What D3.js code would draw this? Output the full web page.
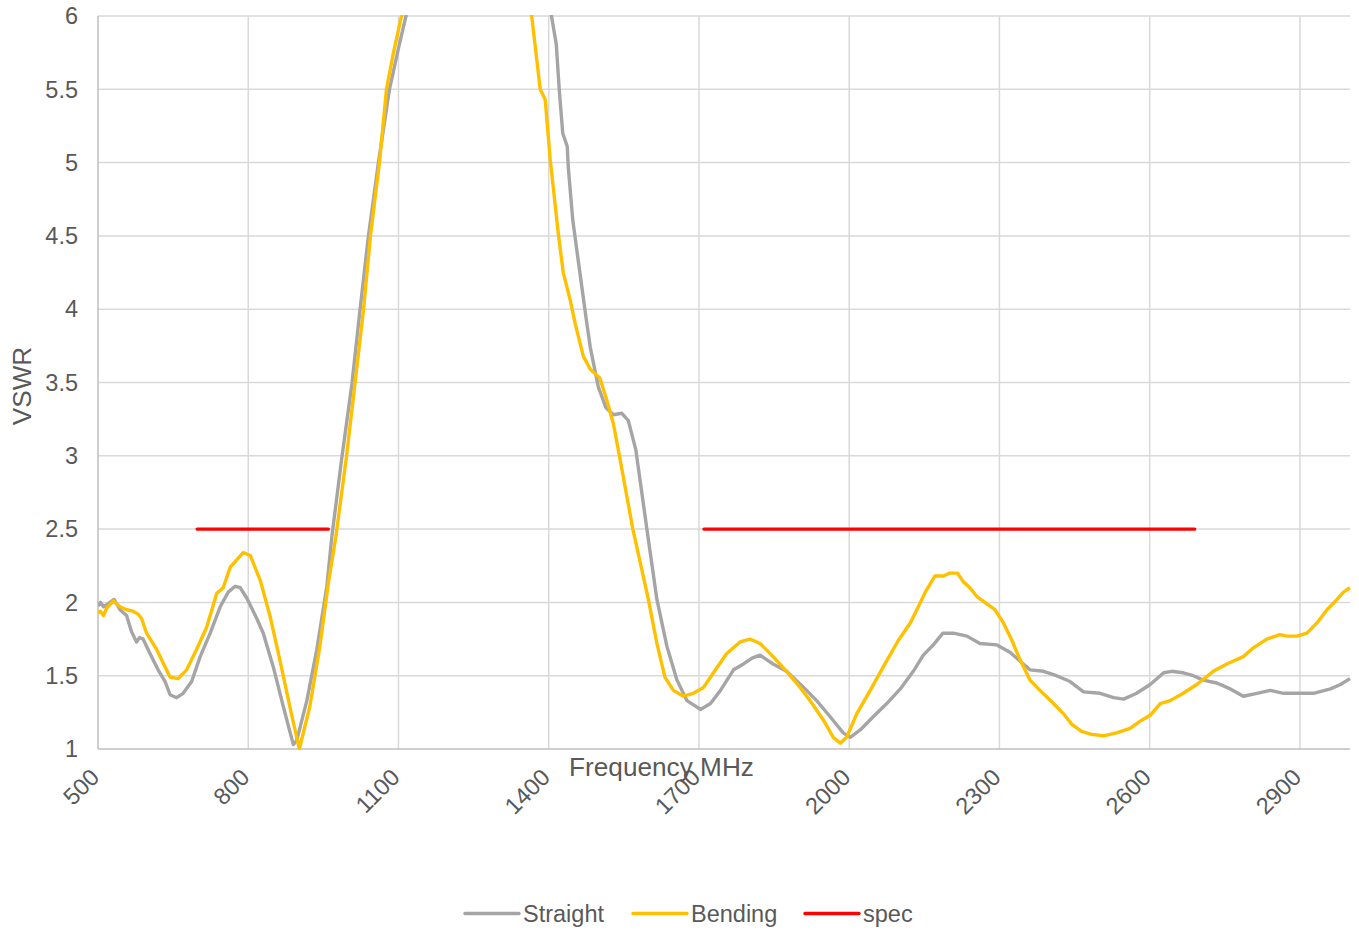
<!DOCTYPE html>
<html><head><meta charset="utf-8">
<script src="https://cdn.jsdelivr.net/npm/d3@7"></script>
<style>
html,body{margin:0;padding:0;background:#fff;}
svg{display:block;font-family:"Liberation Sans",Arial,sans-serif;}
</style></head>
<body>
<svg id="chart" width="1359" height="930"></svg>
<script>
// ---- data ----
const xTicks = [500, 800, 1100, 1400, 1700, 2000, 2300, 2600, 2900];
const yTicks = [1, 1.5, 2, 2.5, 3, 3.5, 4, 4.5, 5, 5.5, 6];

const freqStraight = [500,505,511,520,532,544,557,567,577,583,590,604,620,634,644,657,670,687,704,724,744,760,774,784,797,817,830,850,870,890,897,917,937,957,967,987,1007,1023,1040,1060,1082,1100,1115,1150,1200,1300,1380,1395,1405,1415,1421,1428,1437,1439,1448,1457,1475,1483,1499,1514,1529,1546,1559,1574,1596,1616,1636,1656,1676,1703,1723,1743,1769,1789,1806,1822,1848,1875,1909,1935,1962,1988,2002,2022,2048,2075,2102,2128,2148,2168,2187,2208,2235,2261,2295,2321,2341,2361,2388,2414,2441,2468,2501,2528,2548,2574,2601,2628,2644,2667,2687,2707,2734,2761,2787,2814,2841,2867,2894,2927,2961,2981,3000];
const vswrStraight = [1.975,2.00,1.97,1.99,2.02,1.95,1.91,1.80,1.73,1.76,1.75,1.65,1.54,1.46,1.37,1.35,1.38,1.46,1.63,1.79,1.97,2.07,2.11,2.10,2.03,1.89,1.79,1.56,1.29,1.03,1.06,1.33,1.68,2.11,2.45,2.99,3.49,3.99,4.50,5.00,5.50,5.78,6.00,7.0,8.0,8.3,7.2,6.5,6.01,5.81,5.50,5.20,5.11,4.97,4.61,4.38,3.93,3.74,3.47,3.33,3.28,3.29,3.24,3.04,2.50,2.02,1.70,1.47,1.33,1.27,1.31,1.40,1.54,1.58,1.62,1.64,1.58,1.53,1.42,1.33,1.22,1.11,1.08,1.13,1.22,1.31,1.41,1.53,1.64,1.71,1.79,1.79,1.77,1.72,1.71,1.66,1.60,1.54,1.53,1.50,1.46,1.39,1.38,1.35,1.34,1.38,1.44,1.52,1.53,1.52,1.50,1.47,1.45,1.41,1.36,1.38,1.40,1.38,1.38,1.38,1.41,1.44,1.48];

const freqBending = [500,505,511,517,531,544,557,570,580,587,597,617,634,644,660,677,697,717,737,750,764,777,790,804,824,844,863,883,902,923,943,960,975,996,1013,1030,1044,1062,1076,1090,1106,1150,1200,1300,1350,1366,1383,1393,1403,1419,1429,1443,1453,1469,1483,1502,1516,1529,1539,1568,1599,1616,1632,1649,1669,1689,1709,1729,1755,1782,1802,1822,1848,1875,1902,1922,1948,1968,1982,1995,2015,2042,2068,2098,2122,2138,2152,2171,2188,2201,2216,2228,2241,2255,2275,2291,2308,2325,2341,2361,2381,2408,2428,2444,2464,2484,2508,2534,2561,2581,2601,2621,2641,2667,2694,2727,2754,2787,2807,2834,2860,2874,2894,2914,2934,2954,2974,2987,3000];
const vswrBending = [1.93,1.94,1.91,1.96,2.01,1.97,1.95,1.94,1.92,1.89,1.79,1.68,1.56,1.49,1.48,1.54,1.68,1.83,2.06,2.10,2.24,2.29,2.34,2.32,2.15,1.90,1.61,1.29,1.00,1.29,1.70,2.13,2.45,2.99,3.49,3.99,4.50,5.00,5.50,5.75,6.00,7.2,8.0,8.2,6.8,6.00,5.50,5.43,5.02,4.52,4.25,4.06,3.90,3.68,3.59,3.53,3.38,3.22,3.04,2.50,2.02,1.72,1.49,1.40,1.36,1.38,1.42,1.52,1.65,1.73,1.75,1.72,1.63,1.53,1.42,1.33,1.20,1.08,1.04,1.08,1.24,1.40,1.56,1.74,1.86,1.97,2.07,2.18,2.18,2.20,2.20,2.14,2.10,2.04,1.99,1.95,1.86,1.74,1.61,1.47,1.40,1.31,1.24,1.17,1.12,1.10,1.09,1.11,1.14,1.19,1.23,1.31,1.33,1.38,1.44,1.53,1.58,1.63,1.69,1.75,1.78,1.77,1.77,1.79,1.86,1.95,2.02,2.07,2.10];

const specBands = [[698, 960], [1710, 2690]];
const specValue = 2.5;

const seriesNames = ["Straight", "Bending", "spec"];
const seriesColors = ["#a5a5a5", "#ffc000", "#ff0000"];

// ---- chart ----
const svg = d3.select("#chart");
const mLeft = 98, mRight = 1350, mTop = 16, mBottom = 749;
const x = d3.scaleLinear().domain([500, 3000]).range([mLeft, mRight]);
const y = d3.scaleLinear().domain([1, 6]).range([mBottom, mTop]);
const textColor = "#595959";
const lw = 3.4;

// gridlines
svg.append("g").selectAll("line").data(yTicks.filter(d => d > 1)).join("line")
  .attr("x1", mLeft).attr("x2", mRight)
  .attr("y1", d => y(d)).attr("y2", d => y(d))
  .attr("stroke", "#d9d9d9").attr("stroke-width", 1.5);
svg.append("g").selectAll("line").data(xTicks.filter(d => d > 500)).join("line")
  .attr("x1", d => x(d)).attr("x2", d => x(d))
  .attr("y1", mTop).attr("y2", mBottom)
  .attr("stroke", "#d9d9d9").attr("stroke-width", 1.5);

// axis lines
svg.append("line").attr("x1", mLeft).attr("x2", mLeft).attr("y1", mTop).attr("y2", mBottom)
  .attr("stroke", "#bfbfbf").attr("stroke-width", 1.5);
svg.append("line").attr("x1", mLeft).attr("x2", mRight).attr("y1", mBottom).attr("y2", mBottom)
  .attr("stroke", "#bfbfbf").attr("stroke-width", 1.5);

// y tick labels
svg.append("g").selectAll("text").data(yTicks).join("text")
  .attr("x", 78).attr("y", d => y(d)).attr("dy", "0.35em")
  .attr("text-anchor", "end").attr("fill", textColor).attr("font-size", 23.5)
  .text(d => d);

// x tick labels
svg.append("g").selectAll("text").data(xTicks).join("text")
  .attr("transform", d => `translate(${x(d) - 3},${mBottom + 24}) rotate(-45)`)
  .attr("dy", "0.35em")
  .attr("text-anchor", "end").attr("fill", textColor).attr("font-size", 23.5)
  .text(d => d);

// axis titles
svg.append("text").attr("x", 661.5).attr("y", 776).attr("text-anchor", "middle")
  .attr("fill", textColor).attr("font-size", 26.2).text("Frequency MHz");
svg.append("text").attr("transform", "translate(31,386) rotate(-90)")
  .attr("text-anchor", "middle").attr("fill", textColor).attr("font-size", 26.2).text("VSWR");

// clip
svg.append("defs").append("clipPath").attr("id", "plotClip")
  .append("rect").attr("x", mLeft).attr("y", mTop - 1).attr("width", mRight - mLeft + 2).attr("height", mBottom - mTop + 2);

const line = d3.line().x(d => x(d[0])).y(d => y(d[1]));
const plot = svg.append("g").attr("clip-path", "url(#plotClip)");

const straightPts = freqStraight.map((f, i) => [f, vswrStraight[i]]);
const bendingPts = freqBending.map((f, i) => [f, vswrBending[i]]);

plot.append("path").attr("d", line(straightPts)).attr("fill", "none")
  .attr("stroke", seriesColors[0]).attr("stroke-width", lw).attr("stroke-linejoin", "round");
plot.append("path").attr("d", line(bendingPts)).attr("fill", "none")
  .attr("stroke", seriesColors[1]).attr("stroke-width", lw).attr("stroke-linejoin", "round");
specBands.forEach(b => {
  plot.append("path").attr("d", line([[b[0], specValue], [b[1], specValue]])).attr("fill", "none")
    .attr("stroke", seriesColors[2]).attr("stroke-width", lw).attr("stroke-linecap", "round");
});

// legend
const legendX = [465, 633, 805];
const lg = svg.append("g");
seriesNames.forEach((n, i) => {
  lg.append("line").attr("x1", legendX[i]).attr("x2", legendX[i] + 54)
    .attr("y1", 913.5).attr("y2", 913.5)
    .attr("stroke", seriesColors[i]).attr("stroke-width", lw).attr("stroke-linecap", "round");
  lg.append("text").attr("x", legendX[i] + 58).attr("y", 922)
    .attr("fill", textColor).attr("font-size", 23.5).text(n);
});
</script>
</body></html>
